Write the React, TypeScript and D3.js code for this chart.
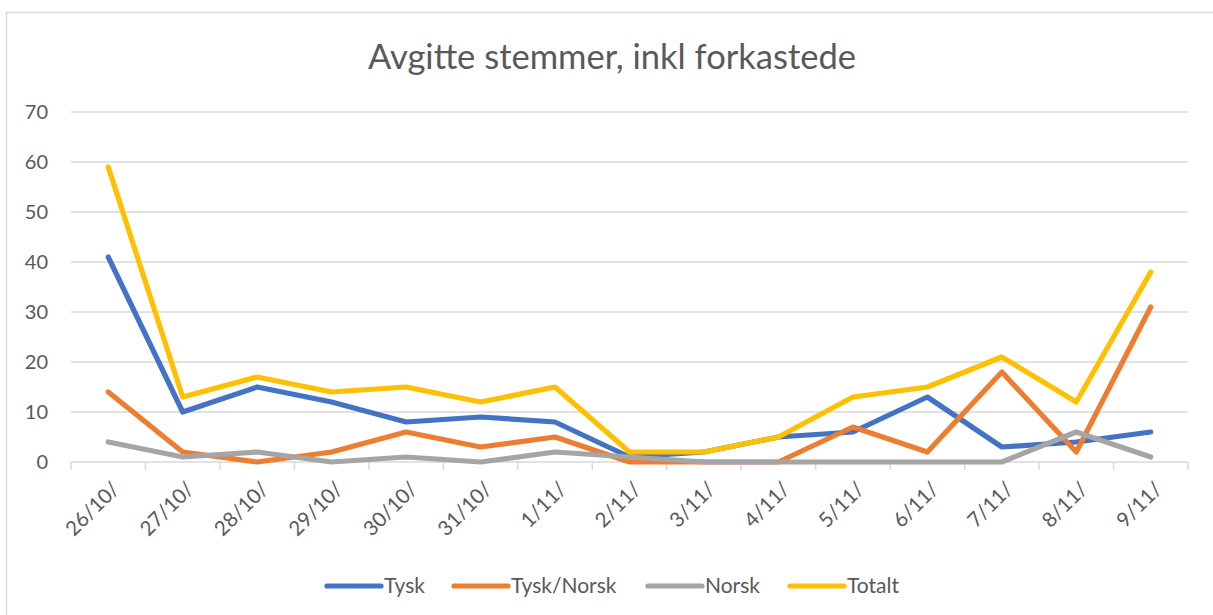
import { scaleBand, scaleLinear, line } from 'd3';

const categories = ['26/10/', '27/10/', '28/10/', '29/10/', '30/10/', '31/10/', '1/11/', '2/11/', '3/11/', '4/11/', '5/11/', '6/11/', '7/11/', '8/11/', '9/11/'];
const tysk = [41, 10, 15, 12, 8, 9, 8, 1, 2, 5, 6, 13, 3, 4, 6];
const tyskNorsk = [14, 2, 0, 2, 6, 3, 5, 0, 0, 0, 7, 2, 18, 2, 31];
const norsk = [4, 1, 2, 0, 1, 0, 2, 1, 0, 0, 0, 0, 0, 6, 1];
const totalt = [59, 13, 17, 14, 15, 12, 15, 2, 2, 5, 13, 15, 21, 12, 38];
const yTicks = [0, 10, 20, 30, 40, 50, 60, 70];

const series = [
    { name: 'Tysk', values: tysk, color: '#4472C4' },
    { name: 'Tysk/Norsk', values: tyskNorsk, color: '#ED7D31' },
    { name: 'Norsk', values: norsk, color: '#A5A5A5' },
    { name: 'Totalt', values: totalt, color: '#FFC000' },
];

const App = () => {
    const width = 1213;
    const height = 615;
    const left = 71;
    const right = 1188;
    const top = 112;
    const bottom = 462;
    const font = 'Lato, "Open Sans", sans-serif';
    const textColor = '#595959';
    const gridColor = '#D9D9D9';

    const xScale = scaleBand().domain(categories).range([left, right]);
    const yScale = scaleLinear().domain([0, 70]).range([bottom, top]);
    const cx = (c: string) => (xScale(c) as number) + xScale.bandwidth() / 2;

    const path = line<number>()
        .x((_, i) => cx(categories[i]))
        .y(d => yScale(d));

    // legend slots: line start x for each entry
    const legendX = [327, 454, 648, 790];
    const legendY = 586;

    return (
        <svg width={width} height={height} style={{ position: 'absolute', left: 0, top: 0, background: '#fff' }}>
            <rect x={6.5} y={12.5} width={1400} height={800} fill="#fff" stroke={gridColor} strokeWidth={1.5} />
            <text x={612} y={69} textAnchor="middle" fontFamily={font} fontSize={34} fill={textColor}
                textLength={488} lengthAdjust="spacingAndGlyphs">Avgitte stemmer, inkl forkastede</text>

            {yTicks.map(t =>
                <g key={t} transform={`translate(0,${yScale(t)})`}>
                    <line x1={left} x2={right} stroke={gridColor} strokeWidth={1.5} />
                    <text x={48} dy="0.35em" textAnchor="end" fontFamily={font} fontSize={20} fill={textColor}>{t}</text>
                </g>
            )}
            {[...categories.map(c => xScale(c) as number), right].map((x, i) =>
                <line key={i} x1={x} x2={x} y1={bottom} y2={470} stroke={gridColor} strokeWidth={1.5} />
            )}
            {categories.map(c =>
                <text key={c} transform={`translate(${cx(c) + 2},${480}) rotate(-45)`} textAnchor="end" dy="0.72em"
                    fontFamily={font} fontSize={20.5} fill={textColor}>{c}</text>
            )}

            {series.map(s =>
                <path key={s.name} d={path(s.values) as string} fill="none" stroke={s.color} strokeWidth={5.2}
                    strokeLinejoin="round" strokeLinecap="round" />
            )}

            {series.map((s, i) =>
                <g key={s.name} transform={`translate(${legendX[i]},${legendY})`}>
                    <line x1={0} x2={54} stroke={s.color} strokeWidth={5.2} strokeLinecap="round" />
                    <text x={57} dy="0.35em" fontFamily={font} fontSize={21} fill={textColor}>{s.name}</text>
                </g>
            )}
        </svg>
    );
};

export default App;
